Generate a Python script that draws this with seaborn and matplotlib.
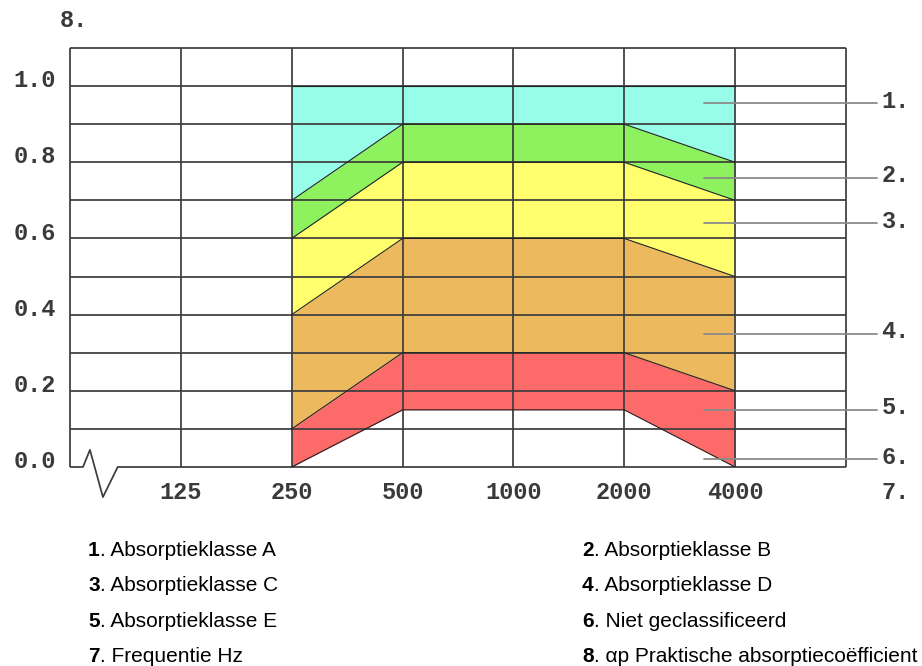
import numpy as np
import pandas as pd
import matplotlib
matplotlib.use("Agg")
import matplotlib.pyplot as plt
import seaborn as sns

# frequency bands (Hz) and class boundaries (practical absorption coefficient)
freq_ticks = [125, 250, 500, 1000, 2000, 4000]
band_freqs = [250, 500, 1000, 2000, 4000]
top_A = [1.0, 1.0, 1.0, 1.0, 1.0]
low_A = [0.7, 0.9, 0.9, 0.9, 0.8]
low_B = [0.6, 0.8, 0.8, 0.8, 0.7]
low_C = [0.4, 0.6, 0.6, 0.6, 0.5]
low_D = [0.1, 0.3, 0.3, 0.3, 0.2]
low_E = [0.0, 0.15, 0.15, 0.15, 0.0]

y_ticks = [0.0, 0.2, 0.4, 0.6, 0.8, 1.0]
marker_labels = ["1.", "2.", "3.", "4.", "5.", "6."]
marker_y = [0.955, 0.76, 0.64, 0.35, 0.15, 0.02]

legend_items = [
    ("1", "Absorptieklasse A"), ("2", "Absorptieklasse B"),
    ("3", "Absorptieklasse C"), ("4", "Absorptieklasse D"),
    ("5", "Absorptieklasse E"), ("6", "Niet geclassificeerd"),
    ("7", "Frequentie Hz"), ("8", "\u03b1p Praktische absorptieco\u00ebfficient"),
]

colors = ["#97fde9", "#8ef25f", "#ffff6e", "#edb95f", "#fd6a6a"]

sns.set_style("white")
plt.rcParams["font.family"] = ["Liberation Sans", "DejaVu Sans"]

def pos(f):
    # octave bands are equally spaced, 63 Hz sits on the left edge
    return np.log2(np.asarray(f, dtype=float) / 62.5)

fig = plt.figure(figsize=(9.22, 6.66), dpi=100)
ax = fig.add_axes([70 / 922, 1 - 467 / 666, 776 / 922, 419 / 666])

bx = pos(band_freqs)
bounds = [top_A, low_A, low_B, low_C, low_D, low_E]
for i, c in enumerate(colors):
    ax.fill_between(bx, bounds[i + 1], bounds[i], color=c, lw=0, zorder=1)

# class boundaries as lines
df = pd.DataFrame({"pos": np.tile(bx, 6),
                   "alpha": np.concatenate(bounds),
                   "grens": np.repeat(list("0ABCDE"), len(bx))})
sns.lineplot(data=df, x="pos", y="alpha", units="grens", estimator=None,
             color="#222222", lw=0.8, ax=ax, zorder=3, legend=False)
ax.set_xlim(0, 7)
ax.set_ylim(0, 1.1)
ax.axis("off")

grid = dict(color="#3c3c3c", lw=1.25, zorder=2, clip_on=False, solid_capstyle="butt")
for yv in np.arange(1, 12) / 10:
    ax.plot([0, 7], [yv, yv], **grid)
for xv in range(0, 8):
    ax.plot([xv, xv], [0, 1.1], **grid)
# bottom line with break symbol
ax.plot([0, 0.117, 0.18, 0.297, 0.43, 7], [0, 0, 0.045, -0.079, 0, 0], **grid)

mono = dict(family="Liberation Mono", fontsize=17, fontweight="bold", color="#3a3a3a")
for f in freq_ticks:
    ax.text(pos(f), -0.068, str(f), ha="center", va="center", clip_on=False, **mono)
for yv in y_ticks:
    ax.text(-0.13, yv + 0.014, f"{yv:.1f}", ha="right", va="center", clip_on=False, **mono)
ax.text(-0.09, 1.172, "8.", ha="left", va="center", clip_on=False, **mono)
ax.text(7.32, -0.068, "7.", ha="left", va="center", clip_on=False, **mono)

for lab, yv in zip(marker_labels, marker_y):
    ax.plot([5.72, 7.28], [yv, yv], color="#8a8a8a", lw=1.3, zorder=4, clip_on=False)
    ax.text(7.32, yv + 0.005, lab, ha="left", va="center", clip_on=False, **mono)

# legend rows below the chart
col_x = [88, 582]
row_base = [556, 591, 627, 662]
for k, (num, txt) in enumerate(legend_items):
    x = col_x[k % 2] / 922
    y = 1 - row_base[k // 2] / 666
    t1 = fig.text(x, y, num, fontsize=15, fontweight="bold", color="black", va="baseline")
    fig.canvas.draw()
    ax.annotate(". " + txt, xy=(1, 0), xycoords=t1, va="bottom", ha="left",
                fontsize=15, color="black", annotation_clip=False)

fig.savefig("out.png", dpi=100)
